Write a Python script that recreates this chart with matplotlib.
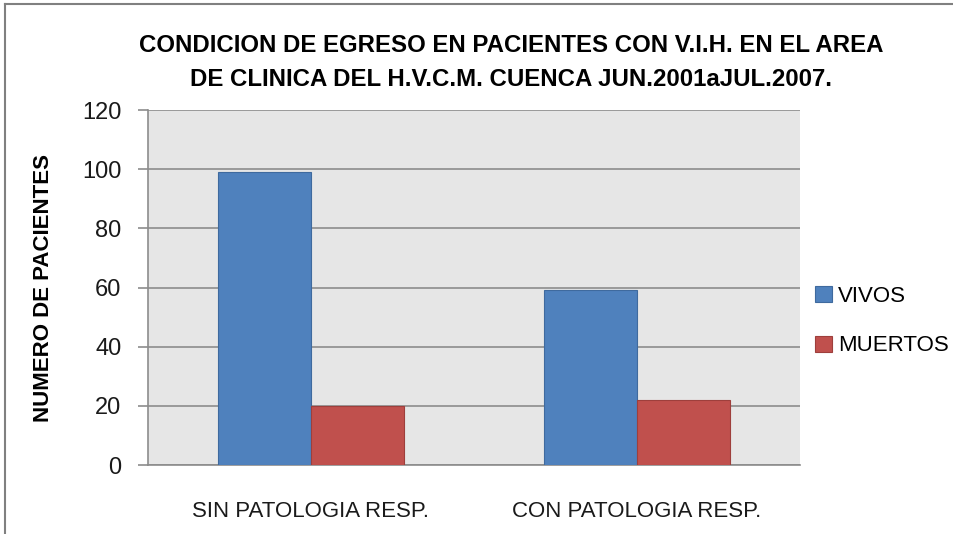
import numpy as np
import matplotlib.pyplot as plt
from matplotlib.lines import Line2D

plt.rcParams['font.family'] = ['Liberation Sans Narrow', 'Liberation Sans', 'DejaVu Sans']

# data
categorias = ['SIN PATOLOGIA RESP.', 'CON PATOLOGIA RESP.']
vivos = [99, 59]
muertos = [20, 22]
series = ['VIVOS', 'MUERTOS']
colores = ['#4F81BD', '#C0504D']
bordes = ['#3F6A9E', '#9E3F3C']

fig = plt.figure(figsize=(9.54, 5.34), dpi=100)
fig.patch.set_facecolor('white')

ax = fig.add_axes([148 / 954, 69 / 534, 652 / 954, 355 / 534])
ax.set_facecolor('#E6E6E6')

x = np.arange(len(categorias))
w = 0.285
ax.bar(x - w / 2, vivos, w, color=colores[0], edgecolor=bordes[0], linewidth=0.8,
       zorder=3, label=series[0])
ax.bar(x + w / 2, muertos, w, color=colores[1], edgecolor=bordes[1], linewidth=0.8,
       zorder=3, label=series[1])

ax.set_xlim(-0.5, 1.5)
ax.set_ylim(0, 120)
ax.set_yticks(range(0, 121, 20))
ax.yaxis.grid(True, color='#8C8C8C', linewidth=1.2, zorder=1)
ax.set_axisbelow(True)

for s in ['top', 'right']:
    ax.spines[s].set_visible(False)
for s in ['left', 'bottom']:
    ax.spines[s].set_color('#8C8C8C')
    ax.spines[s].set_linewidth(1.2)

ax.set_xticks(x)
ax.set_xticklabels(categorias, fontsize=16, color='#1a1a1a')
ax.tick_params(axis='x', length=0, pad=26)
ax.tick_params(axis='y', length=7, width=1.2, color='#8C8C8C', labelsize=17,
               labelcolor='#1a1a1a', pad=12)

ax.set_ylabel('NUMERO DE PACIENTES', fontsize=16, fontweight='bold', labelpad=20)

fig.text(511 / 954, 1 - 45 / 534,
         'CONDICION DE EGRESO EN PACIENTES CON V.I.H. EN EL AREA',
         ha='center', va='center', fontsize=17.3, fontweight='bold')
fig.text(511 / 954, 1 - 80 / 534,
         'DE CLINICA DEL H.V.C.M. CUENCA JUN.2001aJUL.2007.',
         ha='center', va='center', fontsize=17.3, fontweight='bold')

handles = [plt.Rectangle((0, 0), 1, 1, facecolor=c, edgecolor=b, linewidth=0.8)
           for c, b in zip(colores, bordes)]
fig.legend(handles, series, loc='center left', bbox_to_anchor=(795 / 954, 1 - 321 / 534),
           frameon=False, fontsize=16, handlelength=0.75, handleheight=0.75,
           handletextpad=0.3, labelspacing=1.3)

# borde del recuadro del grafico (arriba e izquierda)
fig.add_artist(Line2D([5 / 954, 1], [1 - 4 / 534, 1 - 4 / 534],
                      transform=fig.transFigure, color='#808080', linewidth=1.5))
fig.add_artist(Line2D([5 / 954, 5 / 954], [0, 1 - 4 / 534],
                      transform=fig.transFigure, color='#808080', linewidth=1.5))

fig.savefig('out.png', dpi=100, facecolor='white')
